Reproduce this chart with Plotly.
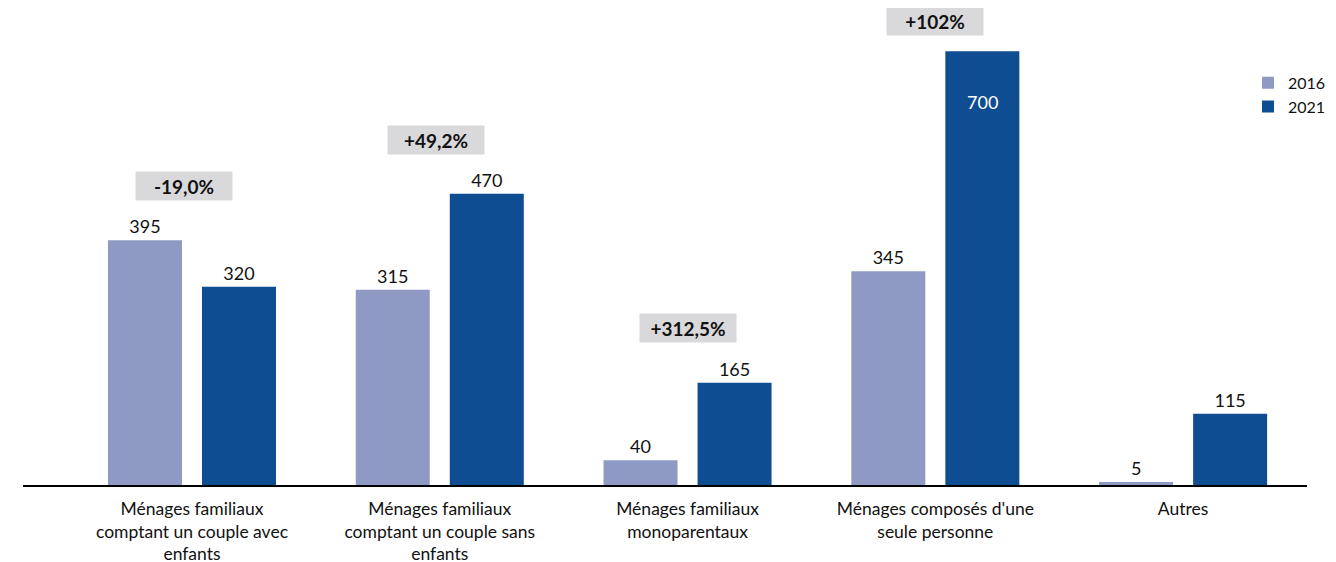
import plotly.graph_objects as go

# data
categories = [
    "Ménages familiaux<br>comptant un couple avec<br>enfants",
    "Ménages familiaux<br>comptant un couple sans<br>enfants",
    "Ménages familiaux<br>monoparentaux",
    "Ménages composés d'une<br>seule personne",
    "Autres",
]
values_2016 = [395, 315, 40, 345, 5]
values_2021 = [320, 470, 165, 700, 115]
changes = ["-19,0%", "+49,2%", "+312,5%", "+102%"]

# where the change boxes sit
change_y = [482, 556, 254, 748]
change_dx = [-0.032, -0.016, 0.0, 0.0]

FONT = "Lato, 'Open Sans', sans-serif"
C2016 = "#8F9AC4"
C2021 = "#0F4D92"

fig = go.Figure()

fig.add_trace(go.Bar(
    x=categories, y=values_2016, name="2016",
    marker=dict(color=C2016, line=dict(width=0)),
    text=values_2016, textposition="outside", cliponaxis=False,
    textfont=dict(size=18, color="#111"),
))

# the tallest 2021 bar gets its label inside, lower down (added as annotation)
top = max(values_2021)
fig.add_trace(go.Bar(
    x=categories, y=values_2021, name="2021",
    marker=dict(color=C2021, line=dict(width=0)),
    text=["" if v == top else v for v in values_2021],
    textposition="outside", cliponaxis=False,
    textfont=dict(size=18, color="#111"),
))
for cat, v in zip(categories, values_2021):
    if v == top:
        fig.add_annotation(
            x=cat, y=v, xref="x", yref="y", xshift=47, yshift=-51,
            text=str(v), showarrow=False,
            font=dict(size=18, color="white", family=FONT),
        )

# change boxes above the first four groups
for i, txt in enumerate(changes):
    fig.add_annotation(
        x=i + change_dx[i], y=change_y[i], xref="x", yref="y",
        text="<b>" + txt + "</b>", showarrow=False,
        font=dict(size=19, color="#111", family=FONT),
        bgcolor="#D9D9DC", width=94, height=26,
    )

# page body adds 8px on the top/left, margins account for it
fig.update_layout(
    width=1336, height=562,
    margin=dict(l=15, r=37, t=6, b=85),
    paper_bgcolor="white", plot_bgcolor="white",
    font=dict(family=FONT, color="#111"),
    barmode="group", bargap=0.241, bargroupgap=0.213,
    showlegend=True,
    legend=dict(
        x=1.0187, y=0.89, xanchor="right", yanchor="top",
        font=dict(size=16, color="#111"),
        bgcolor="rgba(0,0,0,0)", itemwidth=30,
        tracegroupgap=0,
    ),
    xaxis=dict(
        range=[-0.682, 4.5], showline=True, linecolor="black", linewidth=1.5,
        showgrid=False, ticks="", tickfont=dict(size=17.5, color="#111"),
        ticklabelstandoff=7, fixedrange=True,
    ),
    yaxis=dict(
        range=[0, 760], visible=False, showgrid=False, zeroline=False,
        fixedrange=True,
    ),
)

fig.write_html("out.html")
